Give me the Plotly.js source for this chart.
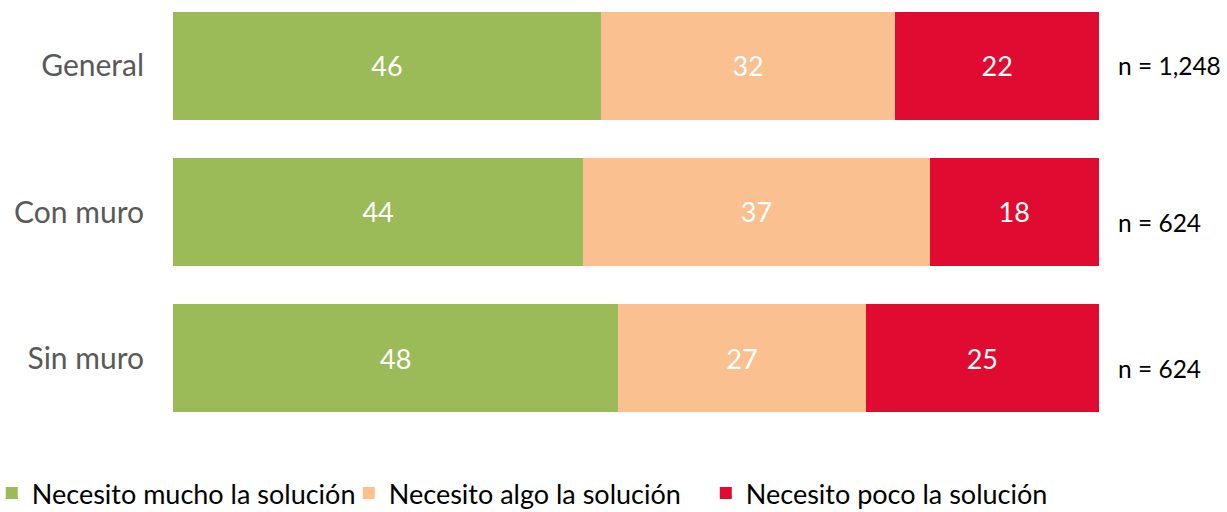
<!DOCTYPE html>
<html><head><meta charset="utf-8">
<script src="https://cdn.plot.ly/plotly-3.0.1.min.js"></script>
<style>body{margin:0;background:#fff}#c{width:1227px;height:512px}</style>
</head><body><div id="c"></div>
<script>
const categories = ["Sin muro", "Con muro", "General"];
const seriesNames = ["Necesito mucho la solución", "Necesito algo la solución", "Necesito poco la solución"];
const mucho = [48.1, 44.3, 46.2];
const algo = [26.7, 37.4, 31.8];
const poco = [25.2, 18.3, 22.0];
const nLabels = ["n = 624", "n = 624", "n = 1,248"];
const colors = ["#9BBB59", "#FAC090", "#E00B30"];

const FONT = "Lato, 'Open Sans', sans-serif";
const series = [mucho, algo, poco];
const traces = series.map((vals, i) => ({
  type: "bar", orientation: "h", name: seriesNames[i],
  y: categories, x: vals,
  marker: {color: colors[i]},
  text: vals.map(v => Math.round(v).toString()),
  textposition: "inside", insidetextanchor: "middle",
  textfont: {color: "#ffffff", size: 27, family: FONT},
  hoverinfo: "skip"
}));

const annotations = categories.map((c, i) => ({
  xref: "paper", yref: "y", x: 1.018, y: c, xanchor: "left",
  yshift: i === 2 ? 0 : -10,
  text: nLabels[i], showarrow: false,
  font: {size: 24.5, color: "#000000", family: FONT}
}));

const layout = {
  width: 1227, height: 512,
  margin: {l: 173, r: 128, t: 0, b: 81, autoexpand: false},
  barmode: "stack", bargap: 0.26,
  showlegend: true,
  legend: {orientation: "h", x: -0.1957, xanchor: "left", y: -0.088, yanchor: "top",
           entrywidth: 312, entrywidthmode: "pixels",
           font: {size: 27, color: "#000000", family: FONT}, traceorder: "normal"},
  xaxis: {range: [0, 100], visible: false, fixedrange: true},
  yaxis: {type: "category", categoryorder: "array", categoryarray: categories,
          range: [-0.5, 2.452], showgrid: false, zeroline: false, showline: false,
          ticks: "", ticklabelstandoff: 28, automargin: false,
          tickfont: {size: 30, color: "#595959", family: FONT}},
  annotations: annotations,
  paper_bgcolor: "#ffffff", plot_bgcolor: "#ffffff",
  font: {family: FONT}
};

Plotly.newPlot("c", traces, layout, {displayModeBar: false, staticPlot: true});
</script></body></html>
